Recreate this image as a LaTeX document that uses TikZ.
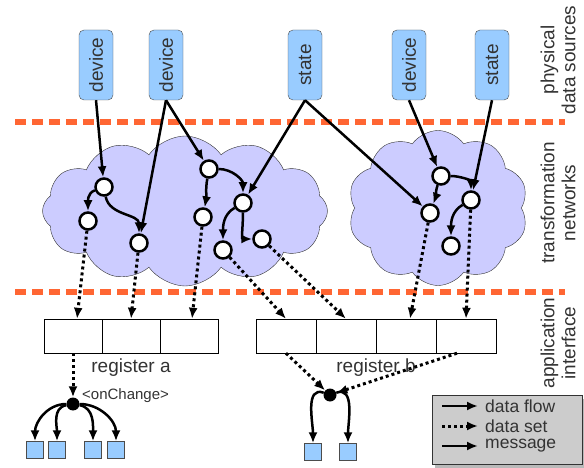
\documentclass[tikz,border=0pt]{standalone}
\usepackage{fontspec}
\setmainfont{Liberation Sans}
\usetikzlibrary{shapes.symbols,arrows.meta,shadows}
\definecolor{srcblue}{HTML}{99CCFF}
\definecolor{cloudblue}{HTML}{CCCCFF}
\definecolor{sepred}{HTML}{FF6633}
\definecolor{keygray}{HTML}{CCCCCC}

\begin{document}
\begin{tikzpicture}[x=1pt,y=-1pt,
	font=\fontsize{19}{21}\selectfont, text=black!80,
	>={Latex[length=11pt,width=9pt]},
	src/.style = {draw=black!70, fill=srcblue, rounded corners=5pt, minimum width=34pt, minimum height=70pt, inner sep=0pt},
	net/.style = {draw=black!80, fill=cloudblue, cloud, cloud puffs=12, cloud puff arc=110, aspect=2, inner sep=0pt},
	pt/.style = {draw, circle, line width=2.5pt, fill=white, minimum size=17pt, inner sep=0pt},
	cell/.style = {draw, fill=white, minimum height=34pt, inner sep=0pt},
	hub/.style = {circle, fill=black, minimum size=13pt, inner sep=0pt},
	app/.style = {draw=black!70, fill=srcblue, minimum size=17pt, inner sep=0pt},
	flow/.style = {line width=2.5pt, ->},
	msg/.style = {line width=2.5pt, ->},
	dset/.style = {line width=3pt, dash pattern=on 3pt off 3pt, ->},
	sep/.style = {sepred, line width=6pt, dash pattern=on 11pt off 6pt},
	side/.style = {rotate=90, align=center},
	keytext/.style = {anchor=west, inner sep=0pt, font=\fontsize{17.5}{18}\selectfont}]
			\useasboundingbox (0,0) rectangle (584,468);
			
			\draw[sep] (15,122) -- (565,122);
			\draw[sep] (15,292) -- (565,292);
			
			\node[side] (lp) at (558,60) {physical\\data sources};
			\node[side] (lt) at (558,203) {transformation\\networks};
			\node[side] (la) at (558,343) {application\\interface};
			
			\node[net, minimum width=285pt, minimum height=150pt] (c1) at (185,211) {};
			\node[net, minimum width=180pt, minimum height=155pt, cloud puffs=10] (c2) at (438,208) {};
			
			\node[src] (d1) at (96,65) {\rotatebox{90}{device}};
			\node[src] (d2) at (166,65) {\rotatebox{90}{device}};
			\node[src] (s1) at (305,65) {\rotatebox{90}{state}};
			\node[src] (d3) at (409,65) {\rotatebox{90}{device}};
			\node[src] (s2) at (492,65) {\rotatebox{90}{state}};
			
			\node[pt] (n1) at (104,187) {};
			\node[pt] (n2) at (88,221) {};
			\node[pt] (n3) at (139,243) {};
			\node[pt] (n4) at (209,169) {};
			\node[pt] (n5) at (203,217) {};
			\node[pt] (n6) at (243,203) {};
			\node[pt] (n7) at (223,250) {};
			\node[pt] (n8) at (262,239) {};
			\node[pt] (m1) at (441,176) {};
			\node[pt] (m2) at (430,213) {};
			\node[pt] (m3) at (471,200) {};
			\node[pt] (m4) at (451,246) {};
			
			\draw[flow] (d1.south) -- (n1);
			\draw[flow] (d2.south) -- (n3);
			\draw[flow] (d2.south) -- (n4);
			\draw[flow] (s1.south) -- (n6);
			\draw[flow] (s1.south) -- (m2);
			\draw[flow] (d3.south) -- (m1);
			\draw[flow] (s2.south) -- (m3);
			
			\draw[flow] (n1) to[out=200,in=90] (n2);
			\draw[flow] (n1) to[out=-80,in=90] (n3);
			\draw[flow] (n4) to[out=-100,in=80] (n5);
			\draw[flow] (n4) to[out=0,in=90] (n6);
			\draw[flow] (n6) to[out=210,in=90] (n7);
			\draw[flow] (n6) to[out=-90,in=180] (n8);
			\draw[flow] (m1) to[out=-110,in=70] (m2);
			\draw[flow] (m1) to[out=0,in=90] (m3);
			\draw[flow] (m3) to[out=210,in=90] (m4);
			
			\node[cell, minimum width=58pt] (a1) at (73,336) {};
			\node[cell, minimum width=58pt] (a2) at (131,336) {};
			\node[cell, minimum width=58pt] (a3) at (189,336) {};
			\node[cell, minimum width=60pt] (b1) at (286,336) {};
			\node[cell, minimum width=60pt] (b2) at (346,336) {};
			\node[cell, minimum width=60pt] (b3) at (406,336) {};
			\node[cell, minimum width=60pt] (b4) at (466,336) {};
			\node (ra) at (131,368) {register a};
			\node (rb) at (376,368) {register b};
			
			\draw[dset] (n2) -- ([xshift=4pt]a1.north);
			\draw[dset] (n3) -- (a2.north);
			\draw[dset] (n5) -- ([xshift=3pt]a3.north);
			\draw[dset] (n7) -- (b1.north);
			\draw[dset] (n8) -- (b2.north);
			\draw[dset] (m2) -- ([xshift=4pt]b3.north);
			\draw[dset] (m3) -- (b4.north);
			
			\node[hub] (ha) at (73,404) {};
			\node[hub] (hb) at (330,395) {};
			\node[font=\fontsize{15}{17}\selectfont, anchor=west, inner sep=1pt] (oc) at (81,396) {<onChange>};
			\draw[dset] (a1.south) -- (ha);
			\draw[dset] (b1.south) -- (hb);
			\draw[dset] ([xshift=-9pt]b4.south) -- (hb);
			
			\node[app] (q1) at (35,450) {};
			\node[app] (q2) at (57,450) {};
			\node[app] (q3) at (93,450) {};
			\node[app] (q4) at (116,450) {};
			\node[app] (r1) at (313,452) {};
			\node[app] (r2) at (348,452) {};
			\draw[msg] (ha) to[out=180,in=90] (q1);
			\draw[msg] (ha) to[out=190,in=90] (q2);
			\draw[msg] (ha) to[out=-10,in=90] (q3);
			\draw[msg] (ha) to[out=0,in=90] (q4);
			\draw[msg] (hb) to[out=160,in=90] (r1);
			\draw[msg] (hb) to[out=20,in=90] (r2);
			
			\node[draw=black!80, fill=keygray, minimum width=150pt, minimum height=69pt,
				drop shadow={shadow xshift=3pt, shadow yshift=-3pt, fill=black!55}] (key) at (507,430) {};
			\node[keytext] (k1) at (485,406) {data flow};
			\node[keytext] (k2) at (485,426) {data set};
			\node[keytext] (k3) at (485,446) {message};
			\coordinate (k1s) at (442,406);
			\coordinate (k2s) at (442,426);
			\coordinate (k3s) at (442,446);
			\draw[flow, shorten >=7pt] (k1s) -- (k1.west);
			\draw[dset, shorten >=7pt] (k2s) -- (k2.west);
			\draw[msg, shorten >=7pt] (k3s) -- (k3.west);
			
\end{tikzpicture}
\end{document}
